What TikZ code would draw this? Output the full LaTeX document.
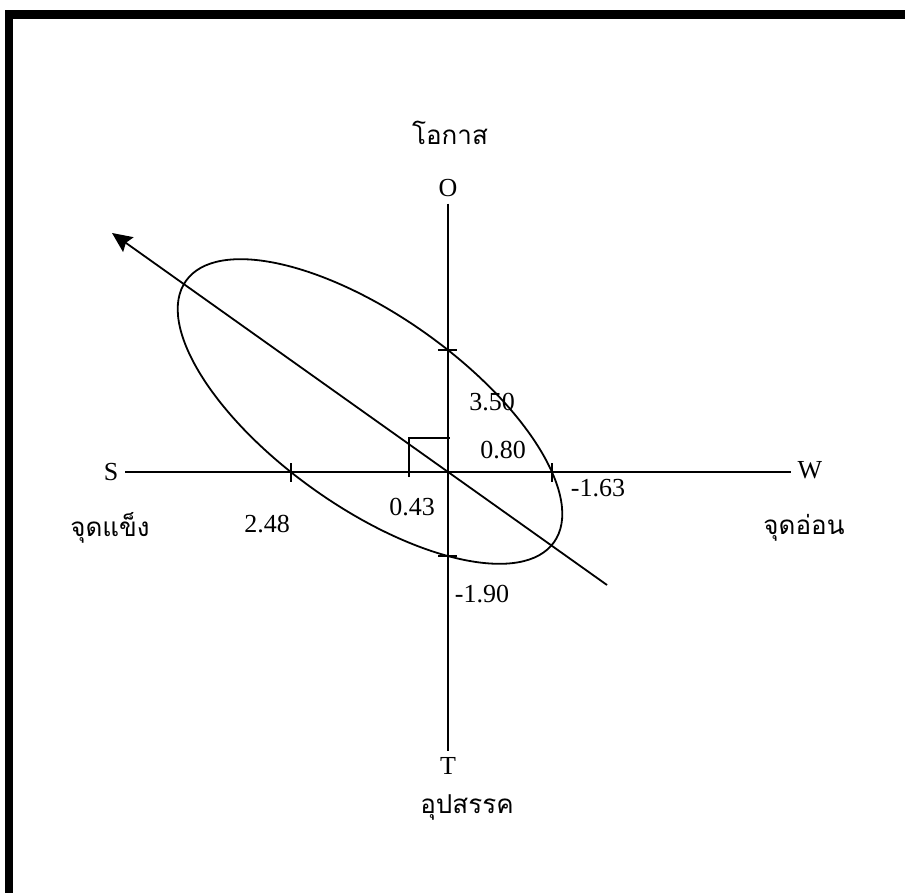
\documentclass[tikz,border=0pt]{standalone}
\usepackage{fontspec}
\setmainfont{Liberation Serif}
\newfontfamily\thaifont[Script=Thai]{Loma}
\usetikzlibrary{arrows.meta}

\begin{document}
\begin{tikzpicture}[x=0.5pt, y=-0.5pt, line width=0.9pt,
  every node/.style={font=\fontsize{13}{15}\selectfont, inner sep=3pt},
  thai/.style={font=\thaifont\fontsize{13}{15}\selectfont},
  arrow/.style={-{Stealth[length=10pt, width=9pt, inset=1.5pt]}}]
\useasboundingbox (0,0) rectangle (905,893);
% frame
\fill (5,10) rectangle (905,19);
\fill (5,10) rectangle (13,893);

% axes
\coordinate (c) at (448,472);
\node (S) at (111,472) {S};
\node (W) at (810,470) {W};
\node (O) at (448,188) {O};
\node (T) at (448,766) {T};
\draw (S) -- (S -| W.west);
\draw (O) -- (T);

\node[thai] (opp) at (450,133) {โอกาส};
\node[thai] (thr) at (467,807) {อุปสรรค};
\node[thai] (str) at (110,528) {จุดแข็ง};
\node[thai] (wk) at (804,528) {จุดอ่อน};

% ticks
\draw (291,463) -- (291,482);
\draw (552,463) -- (552,482);
\draw (438,350) -- (457,350);
\draw (438,556) -- (457,556);
\draw (409,477) -- (409,438) -- (450,438);

\node (s1) at (267,524) {2.48};
\node (s2) at (412,507) {0.43};
\node (w1) at (598,488) {-1.63};
\node (w2) at (503,450) {0.80};
\node (o1) at (492,402) {3.50};
\node (t1) at (482,594) {-1.90};

% position
\draw[rotate around={-35.37:(370,411.5)}] (370,411.5) ellipse [x radius=225.7, y radius=96];
\coordinate (a1) at (607,585);
\coordinate (a2) at (112,233);
\draw[arrow] (a1) -- (a2);
\end{tikzpicture}
\end{document}
